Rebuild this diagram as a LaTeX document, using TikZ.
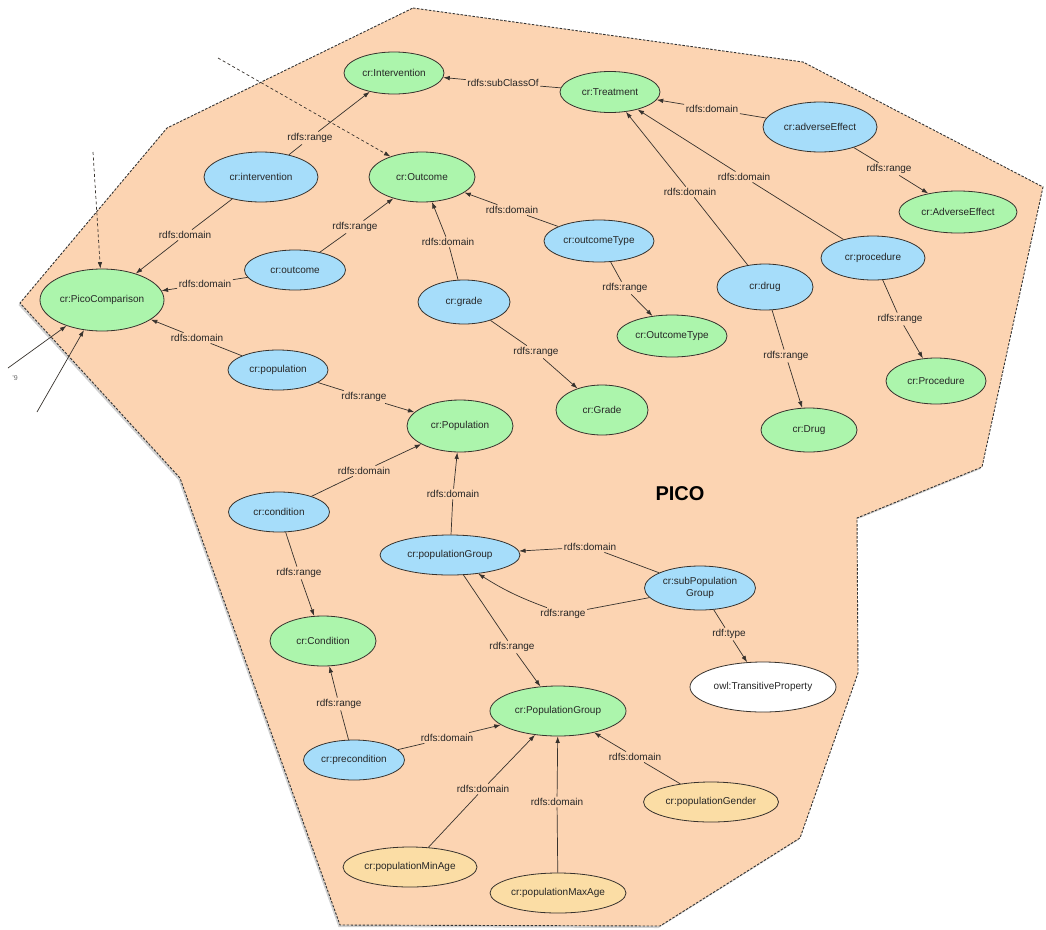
\documentclass[tikz,border=0pt]{standalone}
\usepackage{fontspec}
\setmainfont{Liberation Sans}
\usetikzlibrary{arrows.meta,shapes.geometric}
\definecolor{peach}{RGB}{252,212,178}
\definecolor{ngreen}{RGB}{172,245,172}
\definecolor{nblue}{RGB}{166,221,250}
\definecolor{norange}{RGB}{251,221,165}
\definecolor{edgecol}{RGB}{55,50,45}
\tikzset{
  nd/.style={ellipse, draw=edgecol, line width=0.8pt, inner sep=0pt, font=\fontsize{10}{11.5}\selectfont, text=black!85},
  cls/.style={nd, fill=ngreen},
  prop/.style={nd, fill=nblue},
  dprop/.style={nd, fill=norange},
  wnode/.style={nd, fill=white},
  lbl/.style={fill=peach, inner sep=1.5pt, font=\fontsize{10}{11.5}\selectfont, text=black!85},
  con/.style={draw=edgecol, line width=0.7pt},
  arr/.style={con, -{Latex[length=6.5pt,width=4.5pt]}},
  dasharr/.style={arr, dash pattern=on 3pt off 2.5pt},
  border/.style={draw=black!80, line width=0.9pt, dash pattern=on 2.5pt off 1.5pt},
}
\begin{document}
\begin{tikzpicture}[x=1pt,y=-1pt]
\useasboundingbox (0,0) rectangle (1046,929);
% region
\fill[black!40, opacity=0.45, shift={(-1.5,2)}] (413,8) -- (803,62) -- (1043,187) -- (982,467) -- (857,518) -- (858,673) -- (800,838) -- (660,926) -- (340,925) -- (180,478) -- (20,303) -- (167,128) -- cycle;
\fill[peach] (413,8) -- (803,62) -- (1043,187) -- (982,467) -- (857,518) -- (858,673) -- (800,838) -- (660,926) -- (340,925) -- (180,478) -- (20,303) -- (167,128) -- cycle;
\draw[border] (413,8) -- (803,62) -- (1043,187) -- (982,467) -- (857,518) -- (858,673) -- (800,838) -- (660,926) -- (340,925) -- (180,478) -- (20,303) -- (167,128) -- cycle;

\node[font=\fontsize{20}{24}\selectfont\bfseries] (picolbl) at (680,494) {PICO};

% nodes
\node[cls, minimum width=100pt, minimum height=42pt] (Intervention) at (394,73) {cr:Intervention};
\node[cls, minimum width=100pt, minimum height=41pt] (Treatment) at (610,92) {cr:Treatment};
\node[prop, minimum width=114pt, minimum height=50pt] (adverseEffect) at (820,127) {cr:adverseEffect};
\node[cls, minimum width=118pt, minimum height=42pt] (AdverseEffect) at (958,212) {cr:AdverseEffect};
\node[prop, minimum width=114pt, minimum height=50pt] (intervention) at (261,177) {cr:intervention};
\node[cls, minimum width=106pt, minimum height=50pt] (Outcome) at (422,177) {cr:Outcome};
\node[prop, minimum width=110pt, minimum height=42pt] (outcomeType) at (599,241) {cr:outcomeType};
\node[cls, minimum width=110pt, minimum height=42pt] (OutcomeType) at (672,336) {cr:OutcomeType};
\node[prop, minimum width=101pt, minimum height=40pt] (outcome) at (295,270) {cr:outcome};
\node[cls, minimum width=124pt, minimum height=62pt] (Pico) at (102,300) {cr:PicoComparison};
\node[prop, minimum width=92pt, minimum height=44pt] (grade) at (464,302) {cr:grade};
\node[cls, minimum width=92pt, minimum height=50pt] (Grade) at (602,410) {cr:Grade};
\node[prop, minimum width=96pt, minimum height=46pt] (drug) at (765,287) {cr:drug};
\node[cls, minimum width=96pt, minimum height=44pt] (Drug) at (809,430) {cr:Drug};
\node[prop, minimum width=104pt, minimum height=44pt] (procedure) at (873,258) {cr:procedure};
\node[cls, minimum width=100pt, minimum height=46pt] (Procedure) at (936,381) {cr:Procedure};
\node[prop, minimum width=100pt, minimum height=40pt] (population) at (278,370) {cr:population};
\node[cls, minimum width=106pt, minimum height=52pt] (Population) at (460,426) {cr:Population};
\node[prop, minimum width=101pt, minimum height=40pt] (condition) at (279,512) {cr:condition};
\node[prop, minimum width=140pt, minimum height=40pt] (populationGroup) at (450,555) {cr:populationGroup};
\node[prop, minimum width=111pt, minimum height=44pt, align=center] (subPop) at (700,588) {cr:subPopulation\\Group};
\node[cls, minimum width=106pt, minimum height=50pt] (Condition) at (323,641) {cr:Condition};
\node[wnode, minimum width=146pt, minimum height=50pt] (Transitive) at (763,687) {owl:TransitiveProperty};
\node[cls, minimum width=136pt, minimum height=50pt] (PG) at (558,711) {cr:PopulationGroup};
\node[prop, minimum width=101pt, minimum height=40pt] (precondition) at (354,760) {cr:precondition};
\node[dprop, minimum width=135pt, minimum height=40pt] (Gender) at (711,802) {cr:populationGender};
\node[dprop, minimum width=134pt, minimum height=40pt] (MinAge) at (410,867) {cr:populationMinAge};
\node[dprop, minimum width=136pt, minimum height=40pt] (MaxAge) at (558,893) {cr:populationMaxAge};

% labels
\node[lbl] (l1) at (503,83) {rdfs:subClassOf};
\node[lbl] (l2) at (712,109) {rdfs:domain};
\node[lbl] (l3) at (889,169) {rdfs:range};
\node[lbl] (l4) at (690,192) {rdfs:domain};
\node[lbl] (l5) at (744,177) {rdfs:domain};
\node[lbl] (l6) at (900,319) {rdfs:range};
\node[lbl] (l7) at (786,356) {rdfs:range};
\node[lbl] (l8) at (310,138) {rdfs:range};
\node[lbl] (l9) at (185,235) {rdfs:domain};
\node[lbl] (l10) at (355,227) {rdfs:range};
\node[lbl] (l11) at (205,284) {rdfs:domain};
\node[lbl] (l12) at (512,210) {rdfs:domain};
\node[lbl] (l13) at (625,288) {rdfs:range};
\node[lbl] (l14) at (448,242) {rdfs:domain};
\node[lbl] (l15) at (536,352) {rdfs:range};
\node[lbl] (l16) at (197,338) {rdfs:domain};
\node[lbl] (l17) at (364,397) {rdfs:range};
\node[lbl] (l18) at (364,471) {rdfs:domain};
\node[lbl] (l19) at (299,573) {rdfs:range};
\node[lbl] (l20) at (453,494) {rdfs:domain};
\node[lbl] (l21) at (590,547) {rdfs:domain};
\node[lbl] (l22) at (563,614) {rdfs:range};
\node[lbl] (l23) at (512,647) {rdfs:range};
\node[lbl] (l24) at (729,634) {rdf:type};
\node[lbl] (l25) at (339,704) {rdfs:range};
\node[lbl] (l26) at (447,738) {rdfs:domain};
\node[lbl] (l27) at (483,789) {rdfs:domain};
\node[lbl] (l28) at (557,802) {rdfs:domain};
\node[lbl] (l29) at (635,757) {rdfs:domain};

% connectors
\draw[arr] (Treatment) -- (l1) -- (Intervention);
\draw[arr] (adverseEffect) -- (l2) -- (Treatment);
\draw[arr] (adverseEffect) -- (l3) -- (AdverseEffect);
\draw[arr] (drug) -- (l4) -- (Treatment);
\draw[arr] (procedure) -- (l5) -- (Treatment);
\draw[arr] (procedure) -- (l6) -- (Procedure);
\draw[arr] (drug) -- (l7) -- (Drug);
\draw[arr] (intervention) -- (l8) -- (Intervention);
\draw[arr] (intervention) -- (l9) -- (Pico);
\draw[arr] (outcome) -- (l10) -- (Outcome);
\draw[arr] (outcome) -- (l11) -- (Pico);
\draw[arr] (outcomeType) -- (l12) -- (Outcome);
\draw[arr] (outcomeType) -- (l13) -- (OutcomeType);
\draw[arr] (grade) -- (l14) -- (Outcome);
\draw[arr] (grade) -- (l15) -- (Grade);
\draw[arr] (population) -- (l16) -- (Pico);
\draw[arr] (population) -- (l17) -- (Population);
\draw[arr] (condition) -- (l18) -- (Population);
\draw[arr] (condition) -- (l19) -- (Condition);
\draw[arr] (populationGroup) -- (l20) -- (Population);
\draw[arr] (subPop) -- (l21) -- (populationGroup);
\draw[arr] (subPop) -- (l22) to[bend left=6] (populationGroup);
\draw[arr] (populationGroup) -- (l23) -- (PG);
\draw[arr] (subPop) -- (l24) -- (Transitive);
\draw[arr] (precondition) -- (l25) -- (Condition);
\draw[arr] (precondition) -- (l26) -- (PG);
\draw[arr] (MinAge) -- (l27) -- (PG);
\draw[arr] (MaxAge) -- (l28) -- (PG);
\draw[arr] (Gender) -- (l29) -- (PG);

% connectors entering from outside
\coordinate (d1) at (218,58);
\coordinate (d2) at (93,152);
\coordinate (s1) at (8,368);
\coordinate (s2) at (37,412);
\draw[dasharr] (d1) -- (Outcome.147);
\draw[dasharr] (d2) -- (Pico.93);
\draw[arr] (s1) -- (Pico.216);
\draw[arr] (s2) -- (Pico.239);
\node[font=\fontsize{7}{8}\selectfont, text=black!60] (frag) at (15,378) {'9};
\end{tikzpicture}
\end{document}
